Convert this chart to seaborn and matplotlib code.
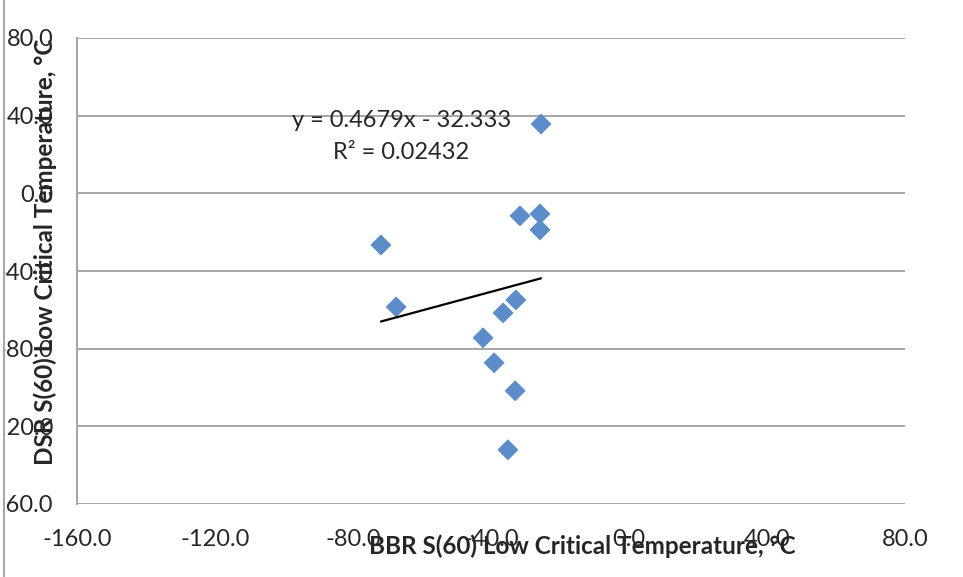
import matplotlib
matplotlib.use("Agg")
import matplotlib.pyplot as plt
import seaborn as sns
import pandas as pd
from matplotlib.lines import Line2D
from matplotlib.patches import Rectangle

bbr_temp = [-25.5, -31.6, -25.8, -25.8, -71.9, -67.5, -32.8, -36.5, -42.3, -39.1, -33.0, -35.1]
dsr_temp = [35.7, -11.6, -10.6, -18.8, -26.6, -58.5, -54.9, -61.6, -74.4, -87.3, -101.7, -132.1]
x_ticks = [-160, -120, -80, -40, 0, 40, 80]
y_ticks = [-160, -120, -80, -40, 0, 40, 80]
equation_text = "y = 0.4679x - 32.333"
r2_text = "R² = 0.02432"
x_label = "BBR S(60) Low Critical Temperature, °C"
y_label = "DSR S(60) Low Critical Temperature, °C"

df = pd.DataFrame({"bbr": bbr_temp, "dsr": dsr_temp})

sns.set_style("white")
plt.rcParams["font.family"] = ["Lato", "DejaVu Sans"]

fig = plt.figure(figsize=(9.63, 5.77), dpi=100)
ax = fig.add_axes([77/963, 1-504/577, (905-77)/963, (504-38)/577])

sns.regplot(data=df, x="bbr", y="dsr", ax=ax, ci=None, truncate=True,
            marker="D",
            scatter_kws=dict(s=115, color="#5A8DC9", edgecolors="none", zorder=3, alpha=1.0),
            line_kws=dict(color="black", linewidth=1.6, zorder=4))

ax.set_xlim(-160, 80)
ax.set_ylim(-160, 80)
ax.set_xticks(x_ticks)
ax.set_yticks(y_ticks)
ax.set_xticklabels([f"{v:.1f}" for v in x_ticks])
ax.set_yticklabels([f"{v:.1f}" for v in y_ticks])
ax.tick_params(axis="x", length=0, pad=18, labelsize=17)
ax.tick_params(axis="y", length=0, pad=17, labelsize=17)
ax.set_xlabel("")
ax.set_ylabel("")

ax.grid(axis="y", color="#A6A6A6", linewidth=1.4)
ax.grid(axis="x", visible=False)
ax.set_axisbelow(True)
for s in ["top", "right", "bottom"]:
    ax.spines[s].set_visible(False)
ax.spines["left"].set_color("#A6A6A6")
ax.spines["left"].set_linewidth(1.4)

ax.text(-66, 37.3, equation_text, ha="center", va="center", fontsize=17)
ax.text(-66, 20.8, r2_text, ha="center", va="center", fontsize=17)

fig.text(582/963, 1-546/577, x_label, ha="center", va="center", fontsize=17.5, fontweight="bold")
fig.text(45/963, 1-252/577, y_label, ha="center", va="center", fontsize=17.5,
         fontweight="bold", rotation=90)

# chart-area border clips the left edge, as in the original
fig.add_artist(Rectangle((0, 0), 3/963, 1, transform=fig.transFigure,
                         facecolor="white", edgecolor="none", zorder=10))
fig.add_artist(Line2D([3.5/963, 3.5/963], [0, 1], transform=fig.transFigure,
                      color="#A6A6A6", linewidth=1.4, zorder=11))

fig.savefig("out.png", dpi=100)
